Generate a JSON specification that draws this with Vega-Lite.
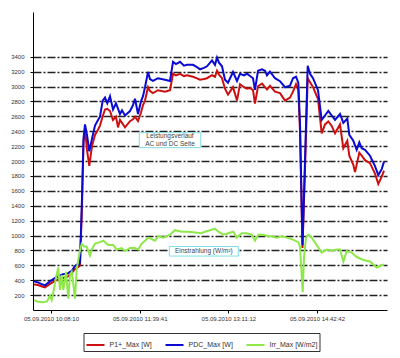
{
"$schema":"https://vega.github.io/schema/vega-lite/v6.json",
"width":354,"height":298,
"autosize":{"type":"none"},
"padding":{"left":33,"top":12,"right":13,"bottom":48},
"background":"white",
"config":{"font":"Liberation Sans","view":{"stroke":null}},
"datasets":{
"series":[
{"s":"P1+_Max [W]","t":"2010-09-05T09:50:38","v":343},
{"s":"P1+_Max [W]","t":"2010-09-05T09:54:46","v":335},
{"s":"P1+_Max [W]","t":"2010-09-05T09:58:53","v":315},
{"s":"P1+_Max [W]","t":"2010-09-05T10:01:59","v":303},
{"s":"P1+_Max [W]","t":"2010-09-05T10:07:08","v":351},
{"s":"P1+_Max [W]","t":"2010-09-05T10:11:16","v":380},
{"s":"P1+_Max [W]","t":"2010-09-05T10:15:24","v":411},
{"s":"P1+_Max [W]","t":"2010-09-05T10:20:34","v":430},
{"s":"P1+_Max [W]","t":"2010-09-05T10:25:43","v":451},
{"s":"P1+_Max [W]","t":"2010-09-05T10:29:50","v":500},
{"s":"P1+_Max [W]","t":"2010-09-05T10:32:56","v":551},
{"s":"P1+_Max [W]","t":"2010-09-05T10:37:04","v":583},
{"s":"P1+_Max [W]","t":"2010-09-05T10:38:06","v":600},
{"s":"P1+_Max [W]","t":"2010-09-05T10:40:10","v":1400},
{"s":"P1+_Max [W]","t":"2010-09-05T10:41:43","v":2250},
{"s":"P1+_Max [W]","t":"2010-09-05T10:43:16","v":2431},
{"s":"P1+_Max [W]","t":"2010-09-05T10:45:19","v":2150},
{"s":"P1+_Max [W]","t":"2010-09-05T10:47:42","v":1935},
{"s":"P1+_Max [W]","t":"2010-09-05T10:50:29","v":2200},
{"s":"P1+_Max [W]","t":"2010-09-05T10:53:35","v":2350},
{"s":"P1+_Max [W]","t":"2010-09-05T10:56:41","v":2420},
{"s":"P1+_Max [W]","t":"2010-09-05T10:58:44","v":2475},
{"s":"P1+_Max [W]","t":"2010-09-05T11:01:32","v":2600},
{"s":"P1+_Max [W]","t":"2010-09-05T11:03:54","v":2691},
{"s":"P1+_Max [W]","t":"2010-09-05T11:06:16","v":2700},
{"s":"P1+_Max [W]","t":"2010-09-05T11:09:04","v":2671},
{"s":"P1+_Max [W]","t":"2010-09-05T11:12:10","v":2551},
{"s":"P1+_Max [W]","t":"2010-09-05T11:15:15","v":2595},
{"s":"P1+_Max [W]","t":"2010-09-05T11:17:19","v":2451},
{"s":"P1+_Max [W]","t":"2010-09-05T11:19:23","v":2551},
{"s":"P1+_Max [W]","t":"2010-09-05T11:24:32","v":2451},
{"s":"P1+_Max [W]","t":"2010-09-05T11:29:42","v":2535},
{"s":"P1+_Max [W]","t":"2010-09-05T11:32:48","v":2560},
{"s":"P1+_Max [W]","t":"2010-09-05T11:34:52","v":2595},
{"s":"P1+_Max [W]","t":"2010-09-05T11:37:58","v":2535},
{"s":"P1+_Max [W]","t":"2010-09-05T11:41:03","v":2650},
{"s":"P1+_Max [W]","t":"2010-09-05T11:43:07","v":2751},
{"s":"P1+_Max [W]","t":"2010-09-05T11:45:11","v":2811},
{"s":"P1+_Max [W]","t":"2010-09-05T11:48:17","v":2991},
{"s":"P1+_Max [W]","t":"2010-09-05T11:50:20","v":2940},
{"s":"P1+_Max [W]","t":"2010-09-05T11:53:26","v":2911},
{"s":"P1+_Max [W]","t":"2010-09-05T11:58:36","v":2950},
{"s":"P1+_Max [W]","t":"2010-09-05T12:05:49","v":2931},
{"s":"P1+_Max [W]","t":"2010-09-05T12:10:59","v":2951},
{"s":"P1+_Max [W]","t":"2010-09-05T12:14:05","v":3171},
{"s":"P1+_Max [W]","t":"2010-09-05T12:17:10","v":3150},
{"s":"P1+_Max [W]","t":"2010-09-05T12:21:18","v":3171},
{"s":"P1+_Max [W]","t":"2010-09-05T12:25:26","v":3140},
{"s":"P1+_Max [W]","t":"2010-09-05T12:28:31","v":3151},
{"s":"P1+_Max [W]","t":"2010-09-05T12:34:43","v":3131},
{"s":"P1+_Max [W]","t":"2010-09-05T12:38:50","v":3110},
{"s":"P1+_Max [W]","t":"2010-09-05T12:41:56","v":3091},
{"s":"P1+_Max [W]","t":"2010-09-05T12:46:04","v":3100},
{"s":"P1+_Max [W]","t":"2010-09-05T12:49:10","v":3111},
{"s":"P1+_Max [W]","t":"2010-09-05T12:54:19","v":3151},
{"s":"P1+_Max [W]","t":"2010-09-05T12:57:25","v":3131},
{"s":"P1+_Max [W]","t":"2010-09-05T12:59:29","v":3211},
{"s":"P1+_Max [W]","t":"2010-09-05T13:01:33","v":3160},
{"s":"P1+_Max [W]","t":"2010-09-05T13:04:38","v":3111},
{"s":"P1+_Max [W]","t":"2010-09-05T13:07:44","v":2971},
{"s":"P1+_Max [W]","t":"2010-09-05T13:10:50","v":2891},
{"s":"P1+_Max [W]","t":"2010-09-05T13:16:00","v":2991},
{"s":"P1+_Max [W]","t":"2010-09-05T13:20:07","v":2811},
{"s":"P1+_Max [W]","t":"2010-09-05T13:23:13","v":3031},
{"s":"P1+_Max [W]","t":"2010-09-05T13:27:21","v":2990},
{"s":"P1+_Max [W]","t":"2010-09-05T13:30:26","v":2971},
{"s":"P1+_Max [W]","t":"2010-09-05T13:33:32","v":2980},
{"s":"P1+_Max [W]","t":"2010-09-05T13:36:38","v":2951},
{"s":"P1+_Max [W]","t":"2010-09-05T13:38:42","v":2771},
{"s":"P1+_Max [W]","t":"2010-09-05T13:41:48","v":3003},
{"s":"P1+_Max [W]","t":"2010-09-05T13:45:55","v":3040},
{"s":"P1+_Max [W]","t":"2010-09-05T13:49:01","v":2991},
{"s":"P1+_Max [W]","t":"2010-09-05T13:51:05","v":2960},
{"s":"P1+_Max [W]","t":"2010-09-05T13:54:11","v":3010},
{"s":"P1+_Max [W]","t":"2010-09-05T13:59:20","v":2931},
{"s":"P1+_Max [W]","t":"2010-09-05T14:04:30","v":2911},
{"s":"P1+_Max [W]","t":"2010-09-05T14:09:40","v":2811},
{"s":"P1+_Max [W]","t":"2010-09-05T14:14:49","v":2851},
{"s":"P1+_Max [W]","t":"2010-09-05T14:17:55","v":2931},
{"s":"P1+_Max [W]","t":"2010-09-05T14:21:01","v":3031},
{"s":"P1+_Max [W]","t":"2010-09-05T14:23:23","v":2950},
{"s":"P1+_Max [W]","t":"2010-09-05T14:25:08","v":2400},
{"s":"P1+_Max [W]","t":"2010-09-05T14:27:43","v":831},
{"s":"P1+_Max [W]","t":"2010-09-05T14:30:18","v":1900},
{"s":"P1+_Max [W]","t":"2010-09-05T14:33:05","v":3110},
{"s":"P1+_Max [W]","t":"2010-09-05T14:38:34","v":2991},
{"s":"P1+_Max [W]","t":"2010-09-05T14:43:43","v":2831},
{"s":"P1+_Max [W]","t":"2010-09-05T14:47:32","v":2371},
{"s":"P1+_Max [W]","t":"2010-09-05T14:50:56","v":2491},
{"s":"P1+_Max [W]","t":"2010-09-05T14:54:21","v":2531},
{"s":"P1+_Max [W]","t":"2010-09-05T14:57:51","v":2471},
{"s":"P1+_Max [W]","t":"2010-09-05T15:01:16","v":2371},
{"s":"P1+_Max [W]","t":"2010-09-05T15:06:25","v":2491},
{"s":"P1+_Max [W]","t":"2010-09-05T15:09:50","v":2171},
{"s":"P1+_Max [W]","t":"2010-09-05T15:13:57","v":2271},
{"s":"P1+_Max [W]","t":"2010-09-05T15:16:01","v":2071},
{"s":"P1+_Max [W]","t":"2010-09-05T15:20:09","v":1950},
{"s":"P1+_Max [W]","t":"2010-09-05T15:21:54","v":1851},
{"s":"P1+_Max [W]","t":"2010-09-05T15:26:20","v":2111},
{"s":"P1+_Max [W]","t":"2010-09-05T15:28:49","v":2071},
{"s":"P1+_Max [W]","t":"2010-09-05T15:32:13","v":2011},
{"s":"P1+_Max [W]","t":"2010-09-05T15:37:23","v":1971},
{"s":"P1+_Max [W]","t":"2010-09-05T15:42:32","v":1831},
{"s":"P1+_Max [W]","t":"2010-09-05T15:45:57","v":1691},
{"s":"P1+_Max [W]","t":"2010-09-05T15:49:27","v":1791},
{"s":"P1+_Max [W]","t":"2010-09-05T15:51:50","v":1871},
{"s":"PDC_Max [W]","t":"2010-09-05T09:50:38","v":384},
{"s":"PDC_Max [W]","t":"2010-09-05T09:54:46","v":370},
{"s":"PDC_Max [W]","t":"2010-09-05T09:58:53","v":345},
{"s":"PDC_Max [W]","t":"2010-09-05T10:01:59","v":331},
{"s":"PDC_Max [W]","t":"2010-09-05T10:07:08","v":384},
{"s":"PDC_Max [W]","t":"2010-09-05T10:11:16","v":420},
{"s":"PDC_Max [W]","t":"2010-09-05T10:15:24","v":451},
{"s":"PDC_Max [W]","t":"2010-09-05T10:20:34","v":479},
{"s":"PDC_Max [W]","t":"2010-09-05T10:25:43","v":491},
{"s":"PDC_Max [W]","t":"2010-09-05T10:29:50","v":531},
{"s":"PDC_Max [W]","t":"2010-09-05T10:32:56","v":591},
{"s":"PDC_Max [W]","t":"2010-09-05T10:35:00","v":611},
{"s":"PDC_Max [W]","t":"2010-09-05T10:37:04","v":605},
{"s":"PDC_Max [W]","t":"2010-09-05T10:38:06","v":640},
{"s":"PDC_Max [W]","t":"2010-09-05T10:40:10","v":1500},
{"s":"PDC_Max [W]","t":"2010-09-05T10:41:43","v":2300},
{"s":"PDC_Max [W]","t":"2010-09-05T10:43:16","v":2491},
{"s":"PDC_Max [W]","t":"2010-09-05T10:45:19","v":2350},
{"s":"PDC_Max [W]","t":"2010-09-05T10:47:42","v":2131},
{"s":"PDC_Max [W]","t":"2010-09-05T10:50:29","v":2300},
{"s":"PDC_Max [W]","t":"2010-09-05T10:53:35","v":2475},
{"s":"PDC_Max [W]","t":"2010-09-05T10:56:41","v":2550},
{"s":"PDC_Max [W]","t":"2010-09-05T10:58:44","v":2595},
{"s":"PDC_Max [W]","t":"2010-09-05T11:01:32","v":2811},
{"s":"PDC_Max [W]","t":"2010-09-05T11:03:54","v":2851},
{"s":"PDC_Max [W]","t":"2010-09-05T11:06:16","v":2775},
{"s":"PDC_Max [W]","t":"2010-09-05T11:09:04","v":2871},
{"s":"PDC_Max [W]","t":"2010-09-05T11:12:10","v":2691},
{"s":"PDC_Max [W]","t":"2010-09-05T11:15:15","v":2775},
{"s":"PDC_Max [W]","t":"2010-09-05T11:19:23","v":2631},
{"s":"PDC_Max [W]","t":"2010-09-05T11:21:26","v":2680},
{"s":"PDC_Max [W]","t":"2010-09-05T11:24:32","v":2611},
{"s":"PDC_Max [W]","t":"2010-09-05T11:29:42","v":2671},
{"s":"PDC_Max [W]","t":"2010-09-05T11:32:48","v":2750},
{"s":"PDC_Max [W]","t":"2010-09-05T11:34:52","v":2835},
{"s":"PDC_Max [W]","t":"2010-09-05T11:37:58","v":2631},
{"s":"PDC_Max [W]","t":"2010-09-05T11:41:03","v":2800},
{"s":"PDC_Max [W]","t":"2010-09-05T11:43:07","v":2871},
{"s":"PDC_Max [W]","t":"2010-09-05T11:45:11","v":2991},
{"s":"PDC_Max [W]","t":"2010-09-05T11:48:17","v":3195},
{"s":"PDC_Max [W]","t":"2010-09-05T11:50:20","v":3100},
{"s":"PDC_Max [W]","t":"2010-09-05T11:53:26","v":3075},
{"s":"PDC_Max [W]","t":"2010-09-05T11:58:36","v":3111},
{"s":"PDC_Max [W]","t":"2010-09-05T12:05:49","v":3091},
{"s":"PDC_Max [W]","t":"2010-09-05T12:10:59","v":3075},
{"s":"PDC_Max [W]","t":"2010-09-05T12:14:05","v":3331},
{"s":"PDC_Max [W]","t":"2010-09-05T12:17:10","v":3300},
{"s":"PDC_Max [W]","t":"2010-09-05T12:21:18","v":3331},
{"s":"PDC_Max [W]","t":"2010-09-05T12:25:26","v":3280},
{"s":"PDC_Max [W]","t":"2010-09-05T12:28:31","v":3291},
{"s":"PDC_Max [W]","t":"2010-09-05T12:34:43","v":3291},
{"s":"PDC_Max [W]","t":"2010-09-05T12:38:50","v":3260},
{"s":"PDC_Max [W]","t":"2010-09-05T12:41:56","v":3231},
{"s":"PDC_Max [W]","t":"2010-09-05T12:46:04","v":3250},
{"s":"PDC_Max [W]","t":"2010-09-05T12:49:10","v":3271},
{"s":"PDC_Max [W]","t":"2010-09-05T12:54:19","v":3351},
{"s":"PDC_Max [W]","t":"2010-09-05T12:57:25","v":3291},
{"s":"PDC_Max [W]","t":"2010-09-05T12:59:29","v":3387},
{"s":"PDC_Max [W]","t":"2010-09-05T13:01:33","v":3320},
{"s":"PDC_Max [W]","t":"2010-09-05T13:04:38","v":3271},
{"s":"PDC_Max [W]","t":"2010-09-05T13:07:44","v":3091},
{"s":"PDC_Max [W]","t":"2010-09-05T13:10:50","v":3051},
{"s":"PDC_Max [W]","t":"2010-09-05T13:16:00","v":3195},
{"s":"PDC_Max [W]","t":"2010-09-05T13:20:07","v":3075},
{"s":"PDC_Max [W]","t":"2010-09-05T13:23:13","v":3171},
{"s":"PDC_Max [W]","t":"2010-09-05T13:27:21","v":3150},
{"s":"PDC_Max [W]","t":"2010-09-05T13:30:26","v":3171},
{"s":"PDC_Max [W]","t":"2010-09-05T13:33:32","v":3140},
{"s":"PDC_Max [W]","t":"2010-09-05T13:36:38","v":3111},
{"s":"PDC_Max [W]","t":"2010-09-05T13:38:42","v":2955},
{"s":"PDC_Max [W]","t":"2010-09-05T13:41:48","v":3211},
{"s":"PDC_Max [W]","t":"2010-09-05T13:45:55","v":3230},
{"s":"PDC_Max [W]","t":"2010-09-05T13:49:01","v":3211},
{"s":"PDC_Max [W]","t":"2010-09-05T13:51:05","v":3151},
{"s":"PDC_Max [W]","t":"2010-09-05T13:54:11","v":3200},
{"s":"PDC_Max [W]","t":"2010-09-05T13:59:20","v":3111},
{"s":"PDC_Max [W]","t":"2010-09-05T14:04:30","v":3071},
{"s":"PDC_Max [W]","t":"2010-09-05T14:09:40","v":2990},
{"s":"PDC_Max [W]","t":"2010-09-05T14:14:49","v":3011},
{"s":"PDC_Max [W]","t":"2010-09-05T14:17:55","v":3111},
{"s":"PDC_Max [W]","t":"2010-09-05T14:21:01","v":3131},
{"s":"PDC_Max [W]","t":"2010-09-05T14:23:23","v":3051},
{"s":"PDC_Max [W]","t":"2010-09-05T14:25:08","v":2500},
{"s":"PDC_Max [W]","t":"2010-09-05T14:27:43","v":871},
{"s":"PDC_Max [W]","t":"2010-09-05T14:30:18","v":2000},
{"s":"PDC_Max [W]","t":"2010-09-05T14:33:05","v":3279},
{"s":"PDC_Max [W]","t":"2010-09-05T14:35:28","v":3171},
{"s":"PDC_Max [W]","t":"2010-09-05T14:38:34","v":3111},
{"s":"PDC_Max [W]","t":"2010-09-05T14:43:43","v":2951},
{"s":"PDC_Max [W]","t":"2010-09-05T14:47:32","v":2551},
{"s":"PDC_Max [W]","t":"2010-09-05T14:50:56","v":2611},
{"s":"PDC_Max [W]","t":"2010-09-05T14:54:21","v":2671},
{"s":"PDC_Max [W]","t":"2010-09-05T14:57:51","v":2611},
{"s":"PDC_Max [W]","t":"2010-09-05T15:01:16","v":2551},
{"s":"PDC_Max [W]","t":"2010-09-05T15:06:25","v":2631},
{"s":"PDC_Max [W]","t":"2010-09-05T15:09:50","v":2511},
{"s":"PDC_Max [W]","t":"2010-09-05T15:13:57","v":2571},
{"s":"PDC_Max [W]","t":"2010-09-05T15:16:01","v":2351},
{"s":"PDC_Max [W]","t":"2010-09-05T15:20:09","v":2271},
{"s":"PDC_Max [W]","t":"2010-09-05T15:23:39","v":2151},
{"s":"PDC_Max [W]","t":"2010-09-05T15:26:20","v":2251},
{"s":"PDC_Max [W]","t":"2010-09-05T15:28:49","v":2171},
{"s":"PDC_Max [W]","t":"2010-09-05T15:32:13","v":2151},
{"s":"PDC_Max [W]","t":"2010-09-05T15:37:23","v":2071},
{"s":"PDC_Max [W]","t":"2010-09-05T15:42:32","v":1931},
{"s":"PDC_Max [W]","t":"2010-09-05T15:45:57","v":1811},
{"s":"PDC_Max [W]","t":"2010-09-05T15:49:27","v":1891},
{"s":"PDC_Max [W]","t":"2010-09-05T15:51:50","v":1991},
{"s":"Irr_Max [W/m2]","t":"2010-09-05T09:50:38","v":132},
{"s":"Irr_Max [W/m2]","t":"2010-09-05T09:54:46","v":111},
{"s":"Irr_Max [W/m2]","t":"2010-09-05T09:59:55","v":103},
{"s":"Irr_Max [W/m2]","t":"2010-09-05T10:04:02","v":115},
{"s":"Irr_Max [W/m2]","t":"2010-09-05T10:07:08","v":191},
{"s":"Irr_Max [W/m2]","t":"2010-09-05T10:08:54","v":132},
{"s":"Irr_Max [W/m2]","t":"2010-09-05T10:10:33","v":231},
{"s":"Irr_Max [W/m2]","t":"2010-09-05T10:12:18","v":371},
{"s":"Irr_Max [W/m2]","t":"2010-09-05T10:14:03","v":471},
{"s":"Irr_Max [W/m2]","t":"2010-09-05T10:15:42","v":570},
{"s":"Irr_Max [W/m2]","t":"2010-09-05T10:17:28","v":271},
{"s":"Irr_Max [W/m2]","t":"2010-09-05T10:19:13","v":470},
{"s":"Irr_Max [W/m2]","t":"2010-09-05T10:20:52","v":271},
{"s":"Irr_Max [W/m2]","t":"2010-09-05T10:23:39","v":511},
{"s":"Irr_Max [W/m2]","t":"2010-09-05T10:26:02","v":151},
{"s":"Irr_Max [W/m2]","t":"2010-09-05T10:27:47","v":470},
{"s":"Irr_Max [W/m2]","t":"2010-09-05T10:29:32","v":511},
{"s":"Irr_Max [W/m2]","t":"2010-09-05T10:31:11","v":351},
{"s":"Irr_Max [W/m2]","t":"2010-09-05T10:32:56","v":151},
{"s":"Irr_Max [W/m2]","t":"2010-09-05T10:34:41","v":551},
{"s":"Irr_Max [W/m2]","t":"2010-09-05T10:36:21","v":672},
{"s":"Irr_Max [W/m2]","t":"2010-09-05T10:38:06","v":800},
{"s":"Irr_Max [W/m2]","t":"2010-09-05T10:39:51","v":891},
{"s":"Irr_Max [W/m2]","t":"2010-09-05T10:42:14","v":851},
{"s":"Irr_Max [W/m2]","t":"2010-09-05T10:45:01","v":851},
{"s":"Irr_Max [W/m2]","t":"2010-09-05T10:46:22","v":800},
{"s":"Irr_Max [W/m2]","t":"2010-09-05T10:48:25","v":731},
{"s":"Irr_Max [W/m2]","t":"2010-09-05T10:50:10","v":811},
{"s":"Irr_Max [W/m2]","t":"2010-09-05T10:53:35","v":891},
{"s":"Irr_Max [W/m2]","t":"2010-09-05T10:58:44","v":911},
{"s":"Irr_Max [W/m2]","t":"2010-09-05T11:02:09","v":931},
{"s":"Irr_Max [W/m2]","t":"2010-09-05T11:07:19","v":871},
{"s":"Irr_Max [W/m2]","t":"2010-09-05T11:12:28","v":871},
{"s":"Irr_Max [W/m2]","t":"2010-09-05T11:15:58","v":811},
{"s":"Irr_Max [W/m2]","t":"2010-09-05T11:21:08","v":831},
{"s":"Irr_Max [W/m2]","t":"2010-09-05T11:24:32","v":791},
{"s":"Irr_Max [W/m2]","t":"2010-09-05T11:29:42","v":831},
{"s":"Irr_Max [W/m2]","t":"2010-09-05T11:34:52","v":831},
{"s":"Irr_Max [W/m2]","t":"2010-09-05T11:38:16","v":811},
{"s":"Irr_Max [W/m2]","t":"2010-09-05T11:41:46","v":891},
{"s":"Irr_Max [W/m2]","t":"2010-09-05T11:45:11","v":931},
{"s":"Irr_Max [W/m2]","t":"2010-09-05T11:48:35","v":971},
{"s":"Irr_Max [W/m2]","t":"2010-09-05T11:55:30","v":931},
{"s":"Irr_Max [W/m2]","t":"2010-09-05T11:58:55","v":991},
{"s":"Irr_Max [W/m2]","t":"2010-09-05T12:04:04","v":971},
{"s":"Irr_Max [W/m2]","t":"2010-09-05T12:07:34","v":991},
{"s":"Irr_Max [W/m2]","t":"2010-09-05T12:10:59","v":1011},
{"s":"Irr_Max [W/m2]","t":"2010-09-05T12:16:08","v":1071},
{"s":"Irr_Max [W/m2]","t":"2010-09-05T12:23:03","v":1051},
{"s":"Irr_Max [W/m2]","t":"2010-09-05T12:29:52","v":1051},
{"s":"Irr_Max [W/m2]","t":"2010-09-05T12:36:47","v":1040},
{"s":"Irr_Max [W/m2]","t":"2010-09-05T12:43:41","v":1031},
{"s":"Irr_Max [W/m2]","t":"2010-09-05T12:47:06","v":1051},
{"s":"Irr_Max [W/m2]","t":"2010-09-05T12:52:16","v":1071},
{"s":"Irr_Max [W/m2]","t":"2010-09-05T12:57:25","v":1091},
{"s":"Irr_Max [W/m2]","t":"2010-09-05T13:00:50","v":1051},
{"s":"Irr_Max [W/m2]","t":"2010-09-05T13:05:59","v":1011},
{"s":"Irr_Max [W/m2]","t":"2010-09-05T13:11:09","v":1031},
{"s":"Irr_Max [W/m2]","t":"2010-09-05T13:16:19","v":1051},
{"s":"Irr_Max [W/m2]","t":"2010-09-05T13:19:49","v":971},
{"s":"Irr_Max [W/m2]","t":"2010-09-05T13:24:58","v":1031},
{"s":"Irr_Max [W/m2]","t":"2010-09-05T13:30:08","v":1031},
{"s":"Irr_Max [W/m2]","t":"2010-09-05T13:35:17","v":1011},
{"s":"Irr_Max [W/m2]","t":"2010-09-05T13:38:42","v":931},
{"s":"Irr_Max [W/m2]","t":"2010-09-05T13:42:07","v":1011},
{"s":"Irr_Max [W/m2]","t":"2010-09-05T13:47:16","v":1011},
{"s":"Irr_Max [W/m2]","t":"2010-09-05T13:52:26","v":991},
{"s":"Irr_Max [W/m2]","t":"2010-09-05T13:55:56","v":991},
{"s":"Irr_Max [W/m2]","t":"2010-09-05T14:01:05","v":971},
{"s":"Irr_Max [W/m2]","t":"2010-09-05T14:06:15","v":991},
{"s":"Irr_Max [W/m2]","t":"2010-09-05T14:11:25","v":971},
{"s":"Irr_Max [W/m2]","t":"2010-09-05T14:16:34","v":951},
{"s":"Irr_Max [W/m2]","t":"2010-09-05T14:19:59","v":931},
{"s":"Irr_Max [W/m2]","t":"2010-09-05T14:23:23","v":911},
{"s":"Irr_Max [W/m2]","t":"2010-09-05T14:25:08","v":851},
{"s":"Irr_Max [W/m2]","t":"2010-09-05T14:27:56","v":240},
{"s":"Irr_Max [W/m2]","t":"2010-09-05T14:29:16","v":711},
{"s":"Irr_Max [W/m2]","t":"2010-09-05T14:31:20","v":971},
{"s":"Irr_Max [W/m2]","t":"2010-09-05T14:33:43","v":1011},
{"s":"Irr_Max [W/m2]","t":"2010-09-05T14:37:13","v":971},
{"s":"Irr_Max [W/m2]","t":"2010-09-05T14:42:22","v":871},
{"s":"Irr_Max [W/m2]","t":"2010-09-05T14:47:32","v":771},
{"s":"Irr_Max [W/m2]","t":"2010-09-05T14:52:41","v":811},
{"s":"Irr_Max [W/m2]","t":"2010-09-05T14:57:51","v":800},
{"s":"Irr_Max [W/m2]","t":"2010-09-05T15:03:01","v":811},
{"s":"Irr_Max [W/m2]","t":"2010-09-05T15:06:25","v":811},
{"s":"Irr_Max [W/m2]","t":"2010-09-05T15:09:50","v":651},
{"s":"Irr_Max [W/m2]","t":"2010-09-05T15:13:20","v":791},
{"s":"Irr_Max [W/m2]","t":"2010-09-05T15:18:29","v":771},
{"s":"Irr_Max [W/m2]","t":"2010-09-05T15:23:39","v":711},
{"s":"Irr_Max [W/m2]","t":"2010-09-05T15:30:28","v":671},
{"s":"Irr_Max [W/m2]","t":"2010-09-05T15:37:23","v":651},
{"s":"Irr_Max [W/m2]","t":"2010-09-05T15:44:17","v":571},
{"s":"Irr_Max [W/m2]","t":"2010-09-05T15:47:42","v":591},
{"s":"Irr_Max [W/m2]","t":"2010-09-05T15:51:50","v":611}
],
"boxes":[
{"t1":"2010-09-05T11:39:18","t2":"2010-09-05T12:42:40","v1":2179,"v2":2380},
{"t1":"2010-09-05T12:10:16","t2":"2010-09-05T13:21:28","v1":724,"v2":852}
],
"notes":[
{"t":"2010-09-05T12:10:59","v":2330,"text":"Leistungsverlauf"},
{"t":"2010-09-05T12:10:59","v":2224,"text":"AC und DC Seite"},
{"t":"2010-09-05T12:45:52","v":790,"text":"Einstrahlung (W/m²)"}
]
},
"layer":[
{"data":{"name":"series"},
 "mark":{"type":"line","strokeWidth":2},
 "encoding":{
  "x":{"field":"t","type":"temporal",
   "scale":{"domain":[{"year":2010,"month":9,"date":5,"hours":9,"minutes":49,"seconds":36},{"year":2010,"month":9,"date":5,"hours":15,"minutes":54,"seconds":55}]},
   "axis":{"title":null,"grid":false,"format":"%d.%m.%Y %H:%M:%S","labelFontSize":6,"labelColor":"#333","tickSize":3,"tickColor":"#000","domainColor":"#000","labelPadding":2,"labelFlush":false,"labelOverlap":false,"tickCount":10,
    "values":[{"year":2010,"month":9,"date":5,"hours":10,"minutes":8,"seconds":10},{"year":2010,"month":9,"date":5,"hours":11,"minutes":39,"seconds":41},{"year":2010,"month":9,"date":5,"hours":13,"minutes":11,"seconds":12},{"year":2010,"month":9,"date":5,"hours":14,"minutes":42,"seconds":42}]}},
  "y":{"field":"v","type":"quantitative",
   "scale":{"domain":[0,3560]},
   "axis":{"title":null,"values":[200,400,600,800,1000,1200,1400,1600,1800,2000,2200,2400,2600,2800,3000,3200,3400],"tickCount":20,"format":"d","labelOverlap":false,"labelFlush":false,"labelFontSize":6,"labelColor":"#333","tickSize":3,"tickColor":"#000","domainColor":"#000","labelPadding":6,"grid":true,"gridColor":"#222","gridDash":[8,2,2,2],"gridWidth":1.5}},
  "color":{"field":"s","type":"nominal",
   "scale":{"domain":["P1+_Max [W]","PDC_Max [W]","Irr_Max [W/m2]"],"range":["#cc1010","#0a0ad2","#8ee84a"]},
   "legend":{"title":null,"orient":"none","legendX":50.5,"legendY":321,"direction":"horizontal","columns":3,"strokeColor":"#333","fillColor":"white","padding":2,"symbolType":"stroke","symbolSize":324,"symbolStrokeWidth":2,"labelFontSize":7,"labelColor":"#333","labelOffset":4,"columnPadding":9}}
 }},
{"data":{"name":"boxes"},
 "mark":{"type":"rect","fill":"white","stroke":"#7fdfe6","strokeWidth":1},
 "encoding":{"x":{"field":"t1","type":"temporal"},"x2":{"field":"t2"},"y":{"field":"v1","type":"quantitative"},"y2":{"field":"v2"}}},
{"data":{"name":"notes"},
 "mark":{"type":"text","fontSize":6.5,"color":"#444","baseline":"middle","align":"center"},
 "encoding":{"x":{"field":"t","type":"temporal"},"y":{"field":"v","type":"quantitative"},"text":{"field":"text"}}}
]
}
